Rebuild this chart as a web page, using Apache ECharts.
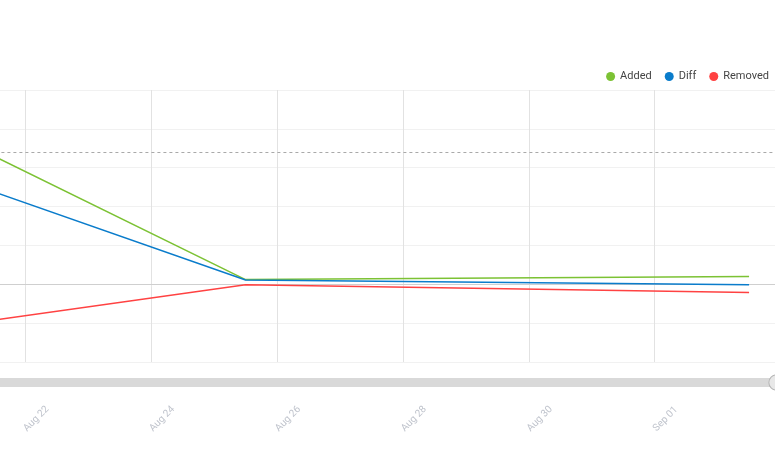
<!DOCTYPE html>
<html>
<head>
<meta charset="utf-8">
<script src="https://cdn.jsdelivr.net/npm/echarts@6/dist/echarts.min.js"></script>
<style>html,body{margin:0;padding:0;background:#fff}#c{width:775px;height:450px}</style>
</head>
<body>
<div id="c"></div>
<script>
// ---- data ----
const seriesNames = ['Added', 'Diff', 'Removed'];
const dates = ['2025-08-21T12:00:00Z', '2025-08-25T12:00:00Z', '2025-09-02T12:00:00Z'];
const added = [330, 12, 20];
const diff = [238, 11, -1];
const removed = [-92, -1, -21];
const referenceLevels = [0, 340];
const tickLabelFormat = '{MMM} {dd}';
const xRange = ['2025-08-20T00:00:00Z', '2025-09-02T21:53:00Z'];
const yRange = [-200, 500];

const DAY = 86400000;
const ts = dates.map(d => Date.parse(d));
const pairs = arr => arr.map((v, i) => [ts[i], v]);
const colors = ['#7cc234', '#0a7ccb', '#ff4242'];

const chart = echarts.init(document.getElementById('c'), null, {renderer: 'canvas'});
chart.setOption({
  animation: false,
  textStyle: {fontFamily: 'Roboto'},
  color: colors,
  legend: {
    data: seriesNames, right: 1, top: 66, icon: 'circle',
    itemWidth: 9, itemHeight: 9, itemGap: 13,
    textStyle: {fontSize: 11, color: '#444', fontFamily: 'Roboto'}
  },
  grid: {left: -100.6, right: 0, top: 90, bottom: 88, containLabel: false, outerBoundsMode: 'none'},
  xAxis: {
    type: 'value', min: Date.parse(xRange[0]), max: Date.parse(xRange[1]), interval: 2 * DAY,
    axisLine: {show: false},
    axisTick: {show: true, length: 3, lineStyle: {color: '#e6e6e6'}},
    splitLine: {show: true, lineStyle: {color: '#e2e2e2'}},
    axisLabel: {
      rotate: 45, align: 'left', verticalAlign: 'middle', margin: 68,
      color: '#bfc3cc', fontSize: 10, fontFamily: 'Roboto', showMaxLabel: false,
      formatter: v => echarts.time.format(v, tickLabelFormat, true)
    }
  },
  yAxis: {
    type: 'value', min: yRange[0], max: yRange[1], interval: 100,
    axisLine: {show: false}, axisTick: {show: false}, axisLabel: {show: false},
    splitLine: {show: true, lineStyle: {color: '#f1f1f1'}}
  },
  dataZoom: [{
    type: 'slider', xAxisIndex: 0, filterMode: 'none', start: 0, end: 100,
    left: -120, right: -1, top: 378, height: 9,
    showDetail: false, showDataShadow: false, brushSelect: false,
    backgroundColor: '#d9d9d9', fillerColor: 'rgba(0,0,0,0)', borderColor: 'transparent',
    handleIcon: 'circle', handleSize: '170%',
    handleStyle: {color: '#e8e8e8', borderColor: '#b5b5b5', borderWidth: 1},
    moveHandleSize: 0, moveHandleStyle: {opacity: 0}
  }],
  series: [
    {
      name: 'Added', type: 'line', data: pairs(added), symbol: 'none',
      lineStyle: {width: 1.5}, z: 3,
      markLine: {
        silent: true, symbol: 'none', label: {show: false}, animation: false, z: 1,
        data: [
          {yAxis: referenceLevels[0], lineStyle: {color: '#cfcfcf', type: 'solid', width: 1}},
          {yAxis: referenceLevels[1], lineStyle: {color: '#a9a9a9', type: [3, 3], width: 1}}
        ]
      }
    },
    {name: 'Diff', type: 'line', data: pairs(diff), symbol: 'none', lineStyle: {width: 1.5}, z: 4},
    {name: 'Removed', type: 'line', data: pairs(removed), symbol: 'none', lineStyle: {width: 1.5}, z: 3}
  ]
});
</script>
</body>
</html>
